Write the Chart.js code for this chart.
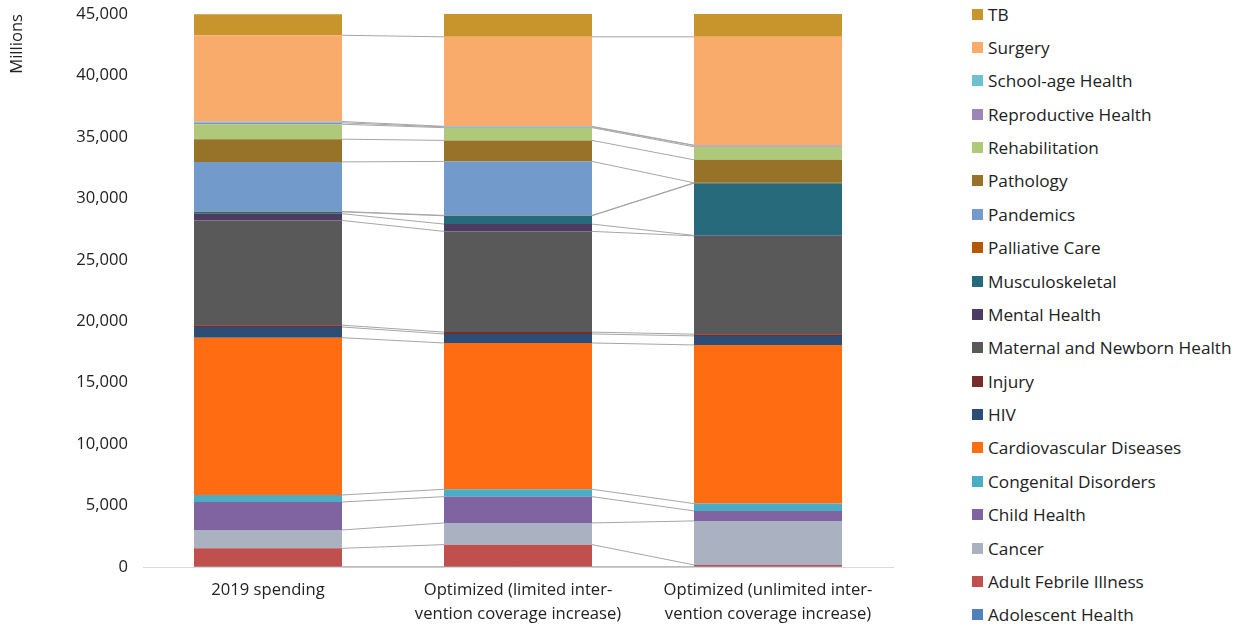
<!DOCTYPE html>
<html>
<head>
<meta charset="utf-8">
<script src="https://cdn.jsdelivr.net/npm/chart.js@4/dist/chart.umd.min.js"></script>
<style>
  html, body { margin: 0; padding: 0; background: #fff; }
  #wrap { position: relative; width: 1244px; height: 629px; overflow: hidden; }
  #chartBox { position: absolute; left: 0; top: 0; width: 900px; height: 629px; }
  #legend { position: absolute; left: 972px; top: -2.7px; margin: 0; padding: 0; list-style: none;
            font-family: "Open Sans", sans-serif; font-size: 17.2px; color: #222; }
  #legend li { height: 33.39px; display: flex; align-items: center; white-space: nowrap; }
  #legend .sw { width: 11px; height: 11px; margin-right: 5px; flex: none; }
</style>
</head>
<body>
<div id="wrap">
  <div id="chartBox"><canvas id="c"></canvas></div>
  <ul id="legend"></ul>
</div>
<script>
// Spending scenarios (x categories)
const categories = [
  '2019 spending',
  ['Optimized (limited inter-', 'vention coverage increase)'],
  ['Optimized (unlimited inter-', 'vention coverage increase)']
];

// Y axis ticks (millions)
const yTicks = [0, 5000, 10000, 15000, 20000, 25000, 30000, 35000, 40000, 45000];

// Spending per area, millions: [2019, limited, unlimited]
const adolescentHealth    = [20, 20, 20];
const adultFebrileIllness = [1500, 1800, 150];
const cancer              = [1490, 1765, 3580];
const childHealth         = [2280, 2140, 815];
const congenitalDisorders = [570, 600, 595];
const cardiovascular      = [12800, 11905, 12910];
const hiv                 = [870, 735, 735];
const injury              = [150, 150, 140];
const maternalNewborn     = [8520, 8195, 8000];
const mentalHealth        = [550, 595, 40];
const musculoskeletal     = [150, 675, 4250];
const palliativeCare      = [30, 30, 30];
const pandemics           = [4035, 4395, 0];
const pathology           = [1850, 1710, 1870];
const rehabilitation      = [1215, 1035, 1060];
const reproductiveHealth  = [120, 60, 105];
const schoolAgeHealth     = [100, 50, 20];
const surgery             = [7020, 7280, 8820];
const tb                  = [1710, 1860, 1860];

// Stack order, bottom to top
const series = [
  ['Adolescent Health', adolescentHealth, '#4F81BD'],
  ['Adult Febrile Illness', adultFebrileIllness, '#C0504D'],
  ['Cancer', cancer, '#AAB1C0'],
  ['Child Health', childHealth, '#8064A2'],
  ['Congenital Disorders', congenitalDisorders, '#4BACC6'],
  ['Cardiovascular Diseases', cardiovascular, '#FF6C12'],
  ['HIV', hiv, '#2C4D75'],
  ['Injury', injury, '#772C2A'],
  ['Maternal and Newborn Health', maternalNewborn, '#595959'],
  ['Mental Health', mentalHealth, '#4D3B62'],
  ['Musculoskeletal', musculoskeletal, '#276A7C'],
  ['Palliative Care', palliativeCare, '#B65708'],
  ['Pandemics', pandemics, '#729ACA'],
  ['Pathology', pathology, '#977229'],
  ['Rehabilitation', rehabilitation, '#AFC97A'],
  ['Reproductive Health', reproductiveHealth, '#9C85B8'],
  ['School-age Health', schoolAgeHealth, '#6FC0D3'],
  ['Surgery', surgery, '#F9AB6B'],
  ['TB', tb, '#C8952C']
];

const FONT = '"Open Sans", sans-serif';
const TEXT = '#222222';

// Connector lines between the tops of matching segments of neighbouring bars
// (none along the top of the stacks)
const seriesLines = {
  id: 'seriesLines',
  afterDatasetsDraw(chart) {
    const ctx = chart.ctx;
    const last = chart.data.datasets.length - 1;
    ctx.save();
    ctx.strokeStyle = '#A6A6A6';
    ctx.lineWidth = 1;
    chart.data.datasets.forEach((ds, d) => {
      if (d === last) return;
      const meta = chart.getDatasetMeta(d);
      for (let i = 0; i < meta.data.length - 1; i++) {
        const a = meta.data[i], b = meta.data[i + 1];
        ctx.beginPath();
        ctx.moveTo(a.x + a.width / 2, a.y);
        ctx.lineTo(b.x - b.width / 2, b.y);
        ctx.stroke();
      }
    });
    ctx.restore();
  }
};

const chart = new Chart(document.getElementById('c'), {
  type: 'bar',
  data: {
    labels: categories,
    datasets: series.map(([label, values, color]) => ({
      label, data: values, backgroundColor: color, borderWidth: 0,
      barPercentage: 0.592, categoryPercentage: 1
    }))
  },
  options: {
    responsive: true,
    maintainAspectRatio: false,
    animation: false,
    layout: { padding: { top: 14, right: 7, left: 0, bottom: 0 } },
    plugins: { legend: { display: false }, tooltip: { enabled: false } },
    scales: {
      x: {
        stacked: true,
        grid: { display: false, drawTicks: false },
        border: { display: true, color: '#D9D9D9', width: 1 },
        ticks: { color: TEXT, font: { family: FONT, size: 16.6, lineHeight: 1.4 }, padding: 12, maxRotation: 0 },
        afterFit(s) { s.height = 62; }
      },
      y: {
        stacked: true,
        min: 0, max: 45000,
        afterBuildTicks(s) { s.ticks = yTicks.map(v => ({ value: v })); },
        grid: { display: false, drawTicks: true, tickLength: 12 },
        border: { display: false },
        ticks: {
          color: TEXT, font: { family: FONT, size: 16.6 }, padding: 3,
          callback: v => v.toLocaleString('en-US')
        },
        title: { display: true, text: 'Millions', align: 'end', color: TEXT,
                 font: { family: FONT, size: 16.6 }, padding: { top: 7, bottom: 0 } },
        afterFit(s) { s.width = 143; }
      }
    }
  },
  plugins: [seriesLines]
});

// Legend, top entry first
const legend = document.getElementById('legend');
chart.data.datasets.slice().reverse().forEach(ds => {
  const li = document.createElement('li');
  const sw = document.createElement('span');
  sw.className = 'sw';
  sw.style.background = ds.backgroundColor;
  li.appendChild(sw);
  li.appendChild(document.createTextNode(ds.label));
  legend.appendChild(li);
});
</script>
</body>
</html>
